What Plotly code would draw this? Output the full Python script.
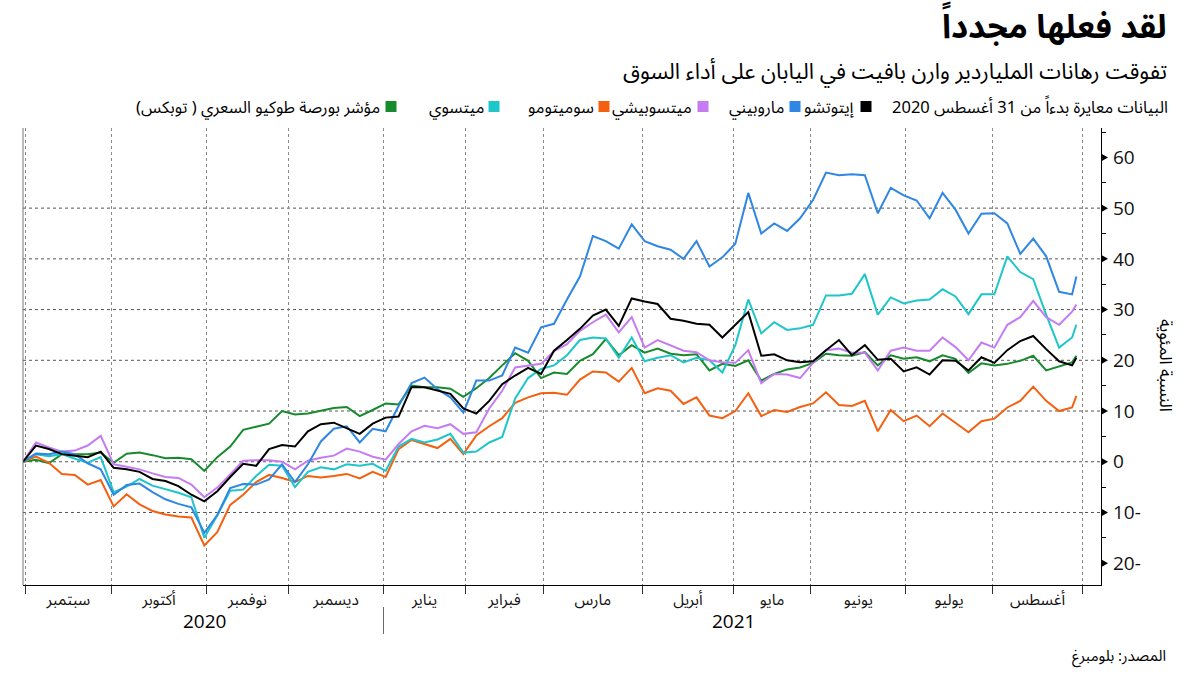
import pandas as pd
import plotly.graph_objects as go

# ---------------- data ----------------
JP_HOLIDAYS = ["2020-09-21", "2020-09-22", "2020-11-03", "2020-11-23", "2020-12-31",
               "2021-01-01", "2021-01-11", "2021-02-11", "2021-02-23", "2021-04-29",
               "2021-05-03", "2021-05-04", "2021-05-05", "2021-07-22", "2021-07-23",
               "2021-08-09"]
START_DATE = "2020-08-31"
END_DATE = "2021-08-30"
SAMPLE_EVERY = 3  # trading days between samples

itochu = [0, 3.2, 2.5, 1.5, 1.2, 0.9, 2.0, -1.2, -1.5, -2.0, -3.4, -3.8, -4.8, -6.5, -7.8, -5.8, -3.0, -0.4, -0.8,
          2.5, 3.3, 3.0, 6.0, 7.4, 7.7, 6.6, 5.5, 7.5, 8.7, 8.9, 14.7, 14.7, 14.0, 13.4, 10.5, 9.5, 12.0, 15.3,
          17.0, 18.5, 17.3, 21.9, 24.0, 26.2, 28.8, 30.0, 26.8, 32.2, 31.6, 31.1, 28.2, 27.8, 27.2, 27.0, 24.5,
          27.0, 29.5, 20.9, 21.2, 20.0, 19.6, 19.8, 22.0, 24.0, 21.0, 23.0, 20.1, 20.3, 17.8, 18.6, 17.2, 20.0,
          19.9, 18.0, 20.6, 19.5, 22.0, 23.8, 24.8, 22.2, 19.8, 19.0, 20.5]
marubeni = [0, 1.6, 1.5, 2.0, 1.5, -0.3, -1.5, -6.5, -4.6, -4.3, -6.0, -7.4, -8.3, -9.0, -14.0, -10.5, -5.2, -4.4,
            -4.5, -3.5, -0.5, -4.0, -0.5, 4.0, 6.5, 7.0, 3.8, 6.5, 6.0, 11.0, 15.5, 16.6, 14.3, 12.7, 9.7, 16.0,
            16.0, 17.0, 22.5, 21.5, 26.5, 27.2, 32.0, 36.5, 44.5, 43.5, 42.0, 46.8, 43.5, 42.5, 41.8, 40.0, 43.5,
            38.5, 40.3, 43.0, 53.0, 45.0, 47.0, 45.5, 48.0, 51.6, 57.0, 56.5, 56.7, 56.5, 49.0, 54.0, 52.5, 51.5,
            48.0, 53.0, 49.7, 45.0, 48.9, 49.0, 47.0, 41.0, 44.0, 40.5, 33.5, 33.0, 36.5]
mitsubishi = [0, 3.8, 2.8, 2.0, 2.2, 3.2, 5.1, -0.5, -1.0, -1.5, -2.3, -3.0, -3.2, -4.5, -7.0, -5.1, -2.5, 0.2,
              0.3, 0.3, 0.0, -1.5, 0.2, 0.8, 1.2, 2.6, 2.0, 1.0, 0.4, 3.5, 6.0, 7.1, 6.6, 7.4, 5.5, 5.8, 10.5,
              14.0, 18.6, 19.0, 19.3, 21.8, 23.2, 25.8, 27.5, 29.0, 25.5, 28.5, 22.5, 24.0, 22.9, 21.9, 21.6,
              20.0, 19.6, 19.5, 22.0, 15.5, 17.3, 17.2, 16.5, 19.5, 22.0, 22.3, 21.5, 21.5, 18.0, 21.9, 22.5,
              21.9, 21.9, 24.5, 22.6, 20.0, 23.5, 22.5, 27.0, 28.5, 31.7, 28.5, 27.0, 29.6, 31.0]
sumitomo = [0, 1.0, -0.2, -2.4, -2.6, -4.5, -3.6, -8.8, -6.4, -8.4, -9.7, -10.4, -10.8, -11.0, -16.5, -13.9, -8.5,
            -6.5, -4.0, -2.6, -3.2, -4.0, -2.8, -3.1, -2.8, -2.4, -3.3, -2.0, -3.0, 2.5, 4.3, 3.5, 2.7, 4.5, 1.5,
            5.2, 7.0, 8.6, 11.6, 12.7, 13.5, 13.6, 13.2, 16.2, 17.8, 17.6, 15.8, 18.5, 13.5, 14.5, 14.0, 11.4,
            12.7, 9.1, 8.6, 10.0, 13.5, 9.0, 10.2, 9.8, 10.8, 11.5, 13.7, 11.2, 11.0, 12.0, 6.0, 10.2, 8.0, 9.1,
            7.0, 9.5, 7.6, 5.8, 8.0, 8.5, 10.7, 12.0, 14.8, 12.0, 10.0, 10.7, 13.0]
mitsui = [0, 1.5, 1.1, 1.5, 0.6, -0.2, 0.9, -6.0, -4.9, -3.4, -4.7, -5.4, -6.1, -7.0, -15.0, -10.6, -5.7, -5.5,
          -2.8, -0.6, -0.8, -5.0, -2.0, -1.1, -1.5, -0.5, -0.8, -0.4, -1.8, 3.0, 4.5, 3.8, 4.4, 5.5, 1.8, 2.0,
          3.8, 4.9, 12.5, 16.5, 18.3, 19.0, 21.0, 24.0, 24.5, 24.3, 20.5, 24.5, 19.8, 20.5, 21.0, 19.6, 20.5,
          20.0, 17.6, 23.0, 32.0, 25.3, 27.5, 26.0, 26.3, 27.0, 32.8, 32.8, 33.1, 37.0, 29.0, 32.4, 31.2, 31.8,
          32.0, 34.0, 32.6, 29.1, 33.0, 33.0, 40.5, 37.4, 36.0, 29.0, 22.5, 24.5, 27.0]
topix = [0, 0.4, -0.3, 1.5, 1.5, 1.5, 1.8, -0.2, 1.6, 1.8, 1.3, 0.7, 0.8, 0.5, -1.8, 0.9, 3.0, 6.3, 6.9, 7.5,
         10.0, 9.3, 9.5, 10.1, 10.6, 10.8, 9.0, 10.2, 11.5, 11.3, 15.0, 14.7, 14.7, 14.4, 12.8, 14.5, 16.5, 19.0,
         21.4, 19.9, 16.5, 17.6, 17.3, 19.9, 21.2, 24.2, 21.0, 23.0, 21.5, 22.3, 21.3, 21.0, 21.2, 18.0, 19.3,
         18.9, 20.0, 16.0, 17.3, 18.2, 18.6, 19.5, 21.3, 21.0, 20.9, 21.6, 19.0, 21.0, 20.3, 20.6, 19.8, 21.0,
         20.3, 17.5, 19.4, 19.0, 19.3, 19.9, 20.9, 18.0, 18.8, 19.6, 20.9]

month_names = ["سبتمبر", "أكتوبر", "نوفمبر", "ديسمبر", "يناير", "فبراير", "مارس", "أبريل",
               "مايو", "يونيو", "يوليو", "أغسطس"]
y_tick_vals = [-20, -10, 0, 10, 20, 30, 40, 50, 60]
y_tick_text = ["20-", "10-", "0", "10", "20", "30", "40", "50", "60"]
grid_vals = [-10, 0, 10, 20, 30, 40, 50]

series = [
    ("مؤشر بورصة طوكيو السعري ( توبكس)", topix, "#168a2c"),
    ("سوميتومو", sumitomo, "#f4600f"),
    ("ميتسوي", mitsui, "#1fc6c9"),
    ("ميتسوبيشي", mitsubishi, "#c57cf2"),
    ("ماروبيني", marubeni, "#2f86e3"),
    ("إيتوتشو", itochu, "#000000"),
]

# ---------------- trading calendar (x axis is trading-day index) ----------------
tdays = pd.bdate_range(START_DATE, "2021-09-10", freq="C", holidays=JP_HOLIDAYS)
end_idx = int(tdays.get_loc(pd.Timestamp(END_DATE)))
sample_idx = list(range(0, end_idx, SAMPLE_EVERY)) + [end_idx]
assert len(sample_idx) == len(itochu)
sample_dates = [tdays[i].strftime("%Y-%m-%d") for i in sample_idx]

month_starts = pd.date_range("2020-09-01", "2021-09-01", freq="MS")
bounds = [int(tdays.searchsorted(m)) - 0.5 for m in month_starts]
mids = [(bounds[k] + bounds[k + 1]) / 2 for k in range(len(bounds) - 1)]

# ---------------- figure ----------------
AR = "Noto Sans Arabic, DejaVu Sans, Open Sans, sans-serif"
NUM = "Open Sans, DejaVu Sans, sans-serif"
L, R, T, B = 23, 1101, 128, 585
W, H = 1200, 675


def px(x):
    return (x - L) / (R - L)


def py(y):
    return (B - y) / (B - T)


fig = go.Figure()
for name, vals, col in series:
    fig.add_trace(go.Scatter(x=sample_idx, y=vals, mode="lines", name=name,
                             line=dict(color=col, width=2), customdata=sample_dates,
                             hovertemplate="%{customdata}: %{y}<extra>" + name + "</extra>"))

fig.update_layout(
    width=W, height=H, showlegend=False,
    margin=dict(l=L, r=W - R, t=T, b=H - B),
    paper_bgcolor="white", plot_bgcolor="white",
    font=dict(family=AR, color="#000"),
    xaxis=dict(range=[0, 249.7], showgrid=False, zeroline=False,
               showline=True, linecolor="#000", linewidth=1.2,
               tickmode="array", tickvals=mids, ticktext=month_names,
               ticks="", tickfont=dict(family=AR, size=15.5, color="#111"),
               minor=dict(tickmode="array", tickvals=bounds, ticks="outside", ticklen=8,
                          tickcolor="#333", tickwidth=1, showgrid=True,
                          gridcolor="#8a8a8a", griddash="dot", gridwidth=1)),
    yaxis=dict(side="right", range=[-24.3, 65.8], showgrid=False, zeroline=False,
               showline=True, linecolor="#000", linewidth=1.3,
               tickmode="array", tickvals=y_tick_vals, ticktext=y_tick_text,
               ticks="outside", ticklen=7, tickcolor="rgba(0,0,0,0)",
               tickfont=dict(family=NUM, size=19, color="#111"),
               minor=dict(dtick=5, tick0=0, ticks="outside", ticklen=4, tickcolor="#000",
                          tickwidth=1, showgrid=False)),
)

shapes = []
for v in grid_vals:
    shapes.append(dict(type="line", xref="paper", yref="y", x0=0, x1=1, y0=v, y1=v,
                       line=dict(color="#555", width=1, dash="dot"), layer="below"))
shapes.append(dict(type="line", xref="paper", yref="paper", x0=0, x1=0, y0=0, y1=1,
                   line=dict(color="#777", width=1)))
for v in y_tick_vals:
    shapes.append(dict(type="path", xref="paper", yref="y", xsizemode="pixel", ysizemode="pixel",
                       xanchor=1, yanchor=v, path="M0,-4 L7,0 L0,4 Z",
                       fillcolor="#000", line=dict(width=0)))
shapes.append(dict(type="line", xref="x", yref="paper", x0=bounds[4], x1=bounds[4],
                   y0=py(607), y1=py(634), line=dict(color="#666", width=1)))

annotations = []
annotations.append(dict(text="<b>لقد فعلها مجدداً</b>", x=px(1169), y=py(28), xref="paper", yref="paper",
                        xanchor="right", yanchor="middle", showarrow=False,
                        font=dict(family=AR, size=33, color="#000")))
annotations.append(dict(text="تفوقت رهانات الملياردير وارن بافيت في اليابان على أداء السوق",
                        x=px(1169), y=py(72), xref="paper", yref="paper", xanchor="right",
                        yanchor="middle", showarrow=False, font=dict(family=AR, size=22, color="#000")))
annotations.append(dict(text="البيانات معايرة بدءاً من 31 أغسطس 2020", x=px(1170), y=py(107),
                        xref="paper", yref="paper", xanchor="right", yanchor="middle", showarrow=False,
                        font=dict(family=AR, size=16.5, color="#000")))

legend_pos = {  # (text right edge px, square centre px)
    "إيتوتشو": (856, 866),
    "ماروبيني": (786, 795),
    "ميتسوبيشي": (694, 703),
    "سوميتومو": (596, 604),
    "ميتسوي": (486, 494),
    "مؤشر بورصة طوكيو السعري ( توبكس)": (382, 391),
}
for name, vals, col in series:
    tr, sq = legend_pos[name]
    annotations.append(dict(text=name, x=px(tr), y=py(107), xref="paper", yref="paper",
                            xanchor="right", yanchor="middle", showarrow=False,
                            font=dict(family=AR, size=16.5, color="#000")))
    shapes.append(dict(type="rect", xref="paper", yref="paper", x0=px(sq - 5.5), x1=px(sq + 5.5),
                       y0=py(112), y1=py(101), fillcolor=col, line=dict(width=0)))

annotations.append(dict(text="2020", x=(bounds[0] + bounds[4]) / 2, y=py(621), xref="x", yref="paper",
                        xanchor="center", yanchor="middle", showarrow=False,
                        font=dict(family=NUM, size=19, color="#000")))
annotations.append(dict(text="2021", x=(bounds[4] + bounds[12]) / 2, y=py(621), xref="x", yref="paper",
                        xanchor="center", yanchor="middle", showarrow=False,
                        font=dict(family=NUM, size=19, color="#000")))
annotations.append(dict(text="النسبة المئوية", x=px(1165), y=py(365), xref="paper", yref="paper",
                        xanchor="center", yanchor="middle", textangle=90, showarrow=False,
                        font=dict(family=AR, size=17, color="#000")))
annotations.append(dict(text="المصدر: بلومبرغ", x=px(1168), y=py(656), xref="paper", yref="paper",
                        xanchor="right", yanchor="middle", showarrow=False,
                        font=dict(family=AR, size=15, color="#000")))

fig.update_layout(shapes=shapes, annotations=annotations)
fig.write_html("out.html", config={"displayModeBar": False},
               post_script="document.body.style.margin='0px';document.body.style.padding='0px';")
